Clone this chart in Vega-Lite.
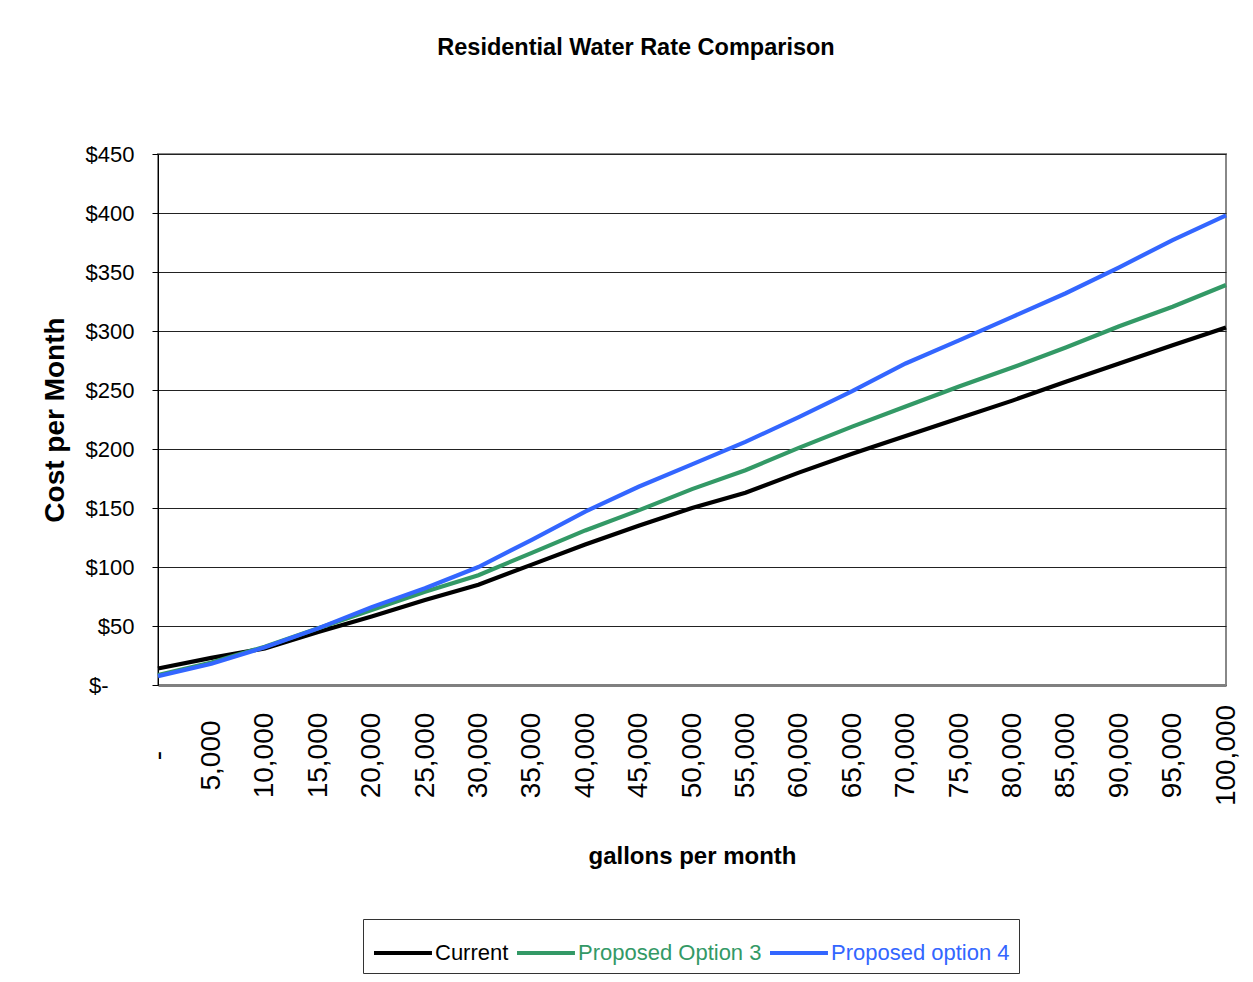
{
  "$schema": "https://vega.github.io/schema/vega-lite/v6.json",
  "width": 1068,
  "height": 531,
  "autosize": {"type": "none"},
  "padding": {"left": 158, "top": 154, "right": 27, "bottom": 297},
  "background": "white",
  "title": {
    "text": "Residential Water Rate Comparison",
    "font": "Liberation Sans",
    "fontSize": 23.5,
    "fontWeight": "bold",
    "color": "#000000",
    "anchor": "middle",
    "baseline": "top",
    "dx": -56,
    "offset": 84
  },
  "data": {
    "values": [
      {"gallons": 0, "Current": 14, "Proposed Option 3": 8.5, "Proposed option 4": 7.5},
      {"gallons": 5000, "Current": 23, "Proposed Option 3": 19, "Proposed option 4": 18},
      {"gallons": 10000, "Current": 31, "Proposed Option 3": 32.5, "Proposed option 4": 32},
      {"gallons": 15000, "Current": 45, "Proposed Option 3": 48, "Proposed option 4": 48},
      {"gallons": 20000, "Current": 58, "Proposed Option 3": 63.5, "Proposed option 4": 66},
      {"gallons": 25000, "Current": 72, "Proposed Option 3": 79, "Proposed option 4": 82},
      {"gallons": 30000, "Current": 85, "Proposed Option 3": 93, "Proposed option 4": 100},
      {"gallons": 35000, "Current": 102, "Proposed Option 3": 112, "Proposed option 4": 123},
      {"gallons": 40000, "Current": 119, "Proposed Option 3": 131, "Proposed option 4": 147},
      {"gallons": 45000, "Current": 135, "Proposed Option 3": 148, "Proposed option 4": 168},
      {"gallons": 50000, "Current": 150, "Proposed Option 3": 166, "Proposed option 4": 187},
      {"gallons": 55000, "Current": 163, "Proposed Option 3": 182, "Proposed option 4": 206},
      {"gallons": 60000, "Current": 180, "Proposed Option 3": 201, "Proposed option 4": 227},
      {"gallons": 65000, "Current": 196, "Proposed Option 3": 219, "Proposed option 4": 249},
      {"gallons": 70000, "Current": 211, "Proposed Option 3": 236, "Proposed option 4": 272.5},
      {"gallons": 75000, "Current": 226, "Proposed Option 3": 253, "Proposed option 4": 292},
      {"gallons": 80000, "Current": 241, "Proposed Option 3": 269, "Proposed option 4": 312},
      {"gallons": 85000, "Current": 257, "Proposed Option 3": 286, "Proposed option 4": 332},
      {"gallons": 90000, "Current": 272.5, "Proposed Option 3": 304, "Proposed option 4": 354},
      {"gallons": 95000, "Current": 288, "Proposed Option 3": 320.5, "Proposed option 4": 377},
      {"gallons": 100000, "Current": 303, "Proposed Option 3": 339, "Proposed option 4": 398}
    ]
  },
  "transform": [
    {"fold": ["Current", "Proposed Option 3", "Proposed option 4"], "as": ["series", "cost"]}
  ],
  "mark": {"type": "line", "strokeWidth": 4.2, "clip": false},
  "encoding": {
    "x": {
      "field": "gallons",
      "type": "quantitative",
      "scale": {"domain": [0, 100000], "nice": false, "zero": false},
      "axis": {
        "title": "gallons per month",
        "titleFont": "Liberation Sans",
        "titleFontSize": 24,
        "titleFontWeight": "bold",
        "titleColor": "#000000",
        "titlePadding": 39,
        "values": [0, 5000, 10000, 15000, 20000, 25000, 30000, 35000, 40000, 45000, 50000, 55000, 60000, 65000, 70000, 75000, 80000, 85000, 90000, 95000, 100000],
        "labelExpr": "datum.value == 0 ? '-' : format(datum.value, ',')",
        "labelAngle": 270,
        "labelAlign": "center",
        "labelBaseline": "middle",
        "labelPadding": 70,
        "labelFont": "Liberation Sans",
        "labelFontSize": 28,
        "labelColor": "#000000",
        "labelOverlap": false,
        "labelFlush": false,
        "labelBound": false,
        "ticks": false,
        "tickSize": 0,
        "grid": false,
        "domain": true,
        "domainColor": "#808080",
        "domainWidth": 3
      }
    },
    "y": {
      "field": "cost",
      "type": "quantitative",
      "scale": {"domain": [0, 450], "nice": false},
      "axis": {
        "title": "Cost per Month",
        "titleFont": "Liberation Sans",
        "titleFontSize": 28,
        "titleFontWeight": "bold",
        "titleColor": "#000000",
        "titlePadding": 16,
        "values": [0, 50, 100, 150, 200, 250, 300, 350, 400, 450],
        "labelExpr": "datum.value == 0 ? '$-' : '$' + datum.value",
        "labelFont": "Liberation Sans",
        "labelFontSize": 22,
        "labelColor": "#000000",
        "labelPadding": {"condition": {"test": "datum.value == 0", "value": 44}, "value": 18},
        "labelFlush": false,
        "labelBound": false,
        "labelOverlap": false,
        "ticks": true,
        "tickSize": 6,
        "tickColor": "#000000",
        "tickWidth": 1,
        "grid": true,
        "gridColor": "#222222",
        "gridWidth": 1,
        "domain": true,
        "domainColor": "#000000",
        "domainWidth": 1
      }
    },
    "color": {
      "field": "series",
      "type": "nominal",
      "scale": {
        "domain": ["Current", "Proposed Option 3", "Proposed option 4"],
        "range": ["#000000", "#339966", "#3366FF"]
      },
      "legend": {
        "title": null,
        "orient": "none",
        "direction": "horizontal",
        "legendX": 205,
        "legendY": 765,
        "symbolType": "M-1,0H1.52",
        "symbolSize": 2116,
        "symbolStrokeWidth": 4,
        "labelFont": "Liberation Sans",
        "labelFontSize": 22,
        "labelOffset": 13,
        "labelLimit": 400,
        "columnPadding": 0,
        "padding": 9,
        "strokeColor": "#333333",
        "fillColor": "white",
        "encode": {
          "labels": {"update": {"fill": {"scale": "color", "field": "value"}}}
        }
      }
    }
  },
  "config": {
    "view": {"stroke": "#888888", "strokeWidth": 2}
  }
}
